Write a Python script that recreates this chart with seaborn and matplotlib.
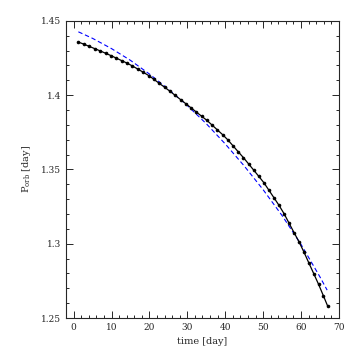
import pandas as pd
import matplotlib
matplotlib.use('Agg')
import matplotlib.pyplot as plt
import seaborn as sns
from matplotlib.ticker import MultipleLocator, FuncFormatter

# observed orbital periods (one point per orbit)
tiempo_obs = [1.25, 2.69, 4.12, 5.55, 6.98, 8.41, 9.84, 11.27, 12.69, 14.11,
              15.53, 16.95, 18.37, 19.79, 21.20, 22.61, 24.02, 25.42, 26.82, 28.22,
              29.62, 31.01, 32.40, 33.79, 35.18, 36.56, 37.94, 39.32, 40.69, 42.06,
              43.43, 44.79, 46.15, 47.50, 48.85, 50.20, 51.54, 52.88, 54.21, 55.54,
              56.86, 58.17, 59.48, 60.78, 62.07, 63.36, 64.64, 65.91, 67.08]
periodo_obs = [1.4357, 1.4343, 1.4328, 1.4313, 1.4298, 1.4282, 1.4266, 1.4249, 1.4232, 1.4215,
               1.4196, 1.4175, 1.4154, 1.4132, 1.4106, 1.4079, 1.4053, 1.4026, 1.3998, 1.3970,
               1.3942, 1.3914, 1.3886, 1.3858, 1.3830, 1.3798, 1.3766, 1.3734, 1.3699, 1.3659,
               1.3619, 1.3580, 1.3538, 1.3496, 1.3454, 1.3411, 1.3360, 1.3309, 1.3258, 1.3202,
               1.3138, 1.3075, 1.3013, 1.2944, 1.2871, 1.2799, 1.2727, 1.2650, 1.2578]

# dashed model curve
tiempo_mod = [1.25, 5, 10, 15, 20, 25, 30, 35, 40, 45, 50, 55, 60, 65, 66.9]
periodo_mod = [1.4426, 1.4382, 1.4313, 1.4234, 1.4142, 1.4040, 1.3930, 1.3808,
               1.3672, 1.3524, 1.3364, 1.3190, 1.2996, 1.2777, 1.2688]


def graficar():
    sns.set_style("ticks")
    plt.rcParams['font.family'] = ['DejaVu Serif']
    plt.rcParams['mathtext.fontset'] = 'dejavuserif'

    fig = plt.figure(figsize=(3.59, 3.59), dpi=100)
    ax = fig.add_axes([0.184, 0.114, 0.760, 0.828])

    df_obs = pd.DataFrame({'t': tiempo_obs, 'P': periodo_obs})
    df_mod = pd.DataFrame({'t': tiempo_mod, 'P': periodo_mod})

    sns.lineplot(data=df_mod, x='t', y='P', ax=ax, color='#0000ff',
                 linestyle=(0, (4, 2.5)), linewidth=0.8, sort=False)
    sns.lineplot(data=df_obs, x='t', y='P', ax=ax, color='black',
                 linewidth=0.9, marker='o', markersize=2.6,
                 markeredgewidth=0, sort=False)

    ax.set_xlim(-2, 70)
    ax.set_ylim(1.25, 1.45)

    ax.xaxis.set_major_locator(MultipleLocator(10))
    ax.xaxis.set_minor_locator(MultipleLocator(2))
    ax.yaxis.set_major_locator(MultipleLocator(0.05))
    ax.yaxis.set_minor_locator(MultipleLocator(0.01))
    ax.yaxis.set_major_formatter(FuncFormatter(lambda v, p: '%g' % round(v, 2)))

    ax.tick_params(which='both', direction='in', top=True, right=True,
                   labelsize=6.5, width=0.7)
    ax.tick_params(which='major', length=5)
    ax.tick_params(which='minor', length=2.5)
    for s in ax.spines.values():
        s.set_linewidth(0.8)

    ax.set_xlabel('time [day]', fontsize=7, labelpad=4)
    ax.set_ylabel(r'P$_{\rm orb}$ [day]', fontsize=7, labelpad=6)

    fig.savefig('out.png', dpi=100)


if __name__ == '__main__':
    graficar()
